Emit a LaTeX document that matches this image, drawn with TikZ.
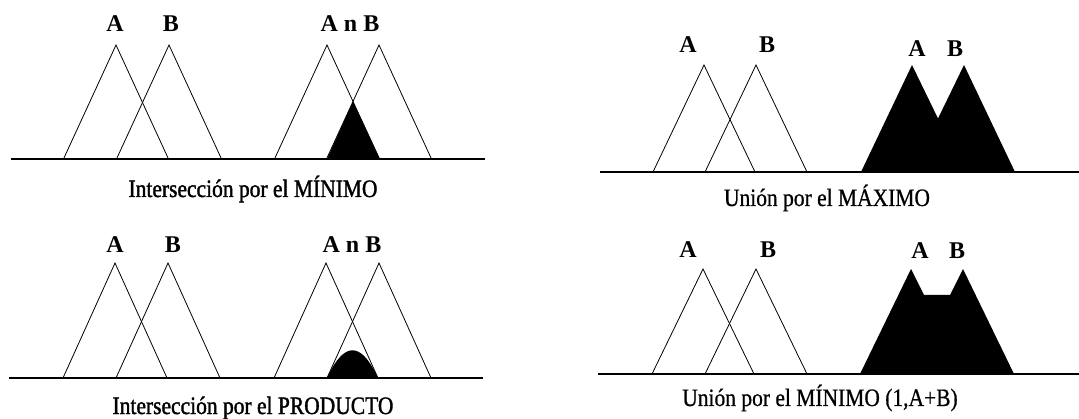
\documentclass[tikz,border=0pt]{standalone}
\usepackage{fontspec}
\setmainfont{Liberation Serif}
\newfontfamily\capfont[FakeStretch=0.86,FakeBold=0.6]{Liberation Serif}
\newfontfamily\capboldfont[FakeStretch=0.86,FakeBold=1.4]{Liberation Serif}
\begin{document}
\begin{tikzpicture}[x=1pt,y=-1pt]
	\tikzset{memb/.style={line width=0.8pt},
		axis/.style={line width=1.3pt},
		lab/.style={anchor=base,inner sep=0pt,font=\fontsize{24}{28}\selectfont\bfseries},
		captxt/.style={anchor=base,inner sep=0pt,font=\capfont\fontsize{25}{28}\selectfont},
		captxtb/.style={captxt,font=\capboldfont\fontsize{25}{28}\selectfont}}
	\useasboundingbox (0,0) rectangle (1079,419);
	% interseccion por el minimo
	\foreach \a in {116,169,327,379}{
		\draw[memb] (\a-52.5,159) -- (\a,45) -- (\a+52.5,159);
	}
	\fill (327,159) -- (353,101.5) -- (380,159) -- cycle;
	\draw[axis] (11,159) -- (485,159);
	\node[lab] (a1) at (115,32) {A};
	\node[lab] (b1) at (171,32) {B};
	\node[lab] (ab1) at (350,32) {A n B};
	\node[captxtb] (cap1) at (253,197) {Intersección por el MÍNIMO};
	% union por el maximo
	\foreach \a in {704,756}{
		\draw[memb] (\a-51,172) -- (\a,65) -- (\a+51,172);
	}
	\fill (861,172) -- (912,65) -- (938,118.5) -- (964,65) -- (1015,172) -- cycle;
	\draw[axis] (600,172) -- (1079,172);
	\node[lab] (a2) at (688,53) {A};
	\node[lab] (b2) at (767,53) {B};
	\node[lab] (a2u) at (917,57) {A};
	\node[lab] (b2u) at (955,57) {B};
	\node[captxt] (cap2) at (827,206) {Unión por el MÁXIMO};
	% interseccion por el producto
	\foreach \a in {115,168,326,379}{
		\draw[memb] (\a-52,378) -- (\a,263) -- (\a+52,378);
	}
	\fill plot[domain=327:378,samples=40] (\x,{378-115*(1-(\x-326)/52)*(1-(379-\x)/52)}) -- cycle;
	\draw[axis] (9,378) -- (483,378);
	\node[lab] (a3) at (115,253) {A};
	\node[lab] (b3) at (173,253) {B};
	\node[lab] (ab3) at (352,253) {A n B};
	\node[captxtb] (cap3) at (253,414) {Intersección por el PRODUCTO};
	% union por el minimo (1,A+B)
	\foreach \a in {703,756}{
		\draw[memb] (\a-51,374) -- (\a,269) -- (\a+51,374);
	}
	\fill (860,374) -- (911,269) -- (924,295) -- (950,295) -- (963,269) -- (1014,374) -- cycle;
	\draw[axis] (598,374) -- (1079,374);
	\node[lab] (a4) at (688,258) {A};
	\node[lab] (b4) at (768,258) {B};
	\node[lab] (a4u) at (920,259) {A};
	\node[lab] (b4u) at (957,259) {B};
	\node[captxt] (cap4) at (820,406) {Unión por el MÍNIMO (1,A+B)};
\end{tikzpicture}
\end{document}
